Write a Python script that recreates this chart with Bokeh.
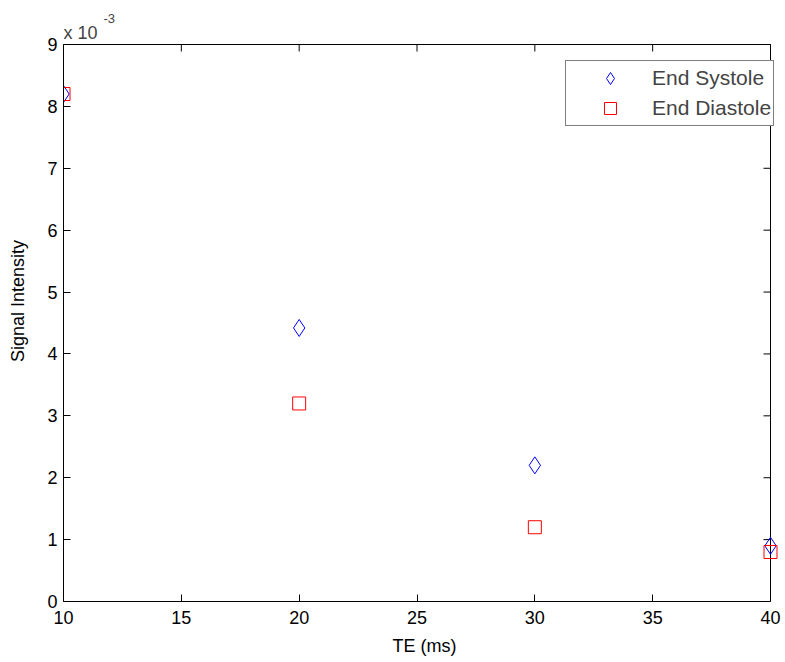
from bokeh.plotting import figure
from bokeh.models import (Range1d, FixedTicker, Label, Legend, LegendItem,
                          CustomJSTickFormatter)
from bokeh.embed import file_html
from bokeh.resources import INLINE

# Data
te_ms = [10, 20, 30, 40]
end_systole = [8.2e-3, 4.42e-3, 2.2e-3, 0.9e-3]
end_diastole = [8.2e-3, 3.2e-3, 1.2e-3, 0.8e-3]
x_ticks = [10, 15, 20, 25, 30, 35, 40]
y_ticks = [0, 1e-3, 2e-3, 3e-3, 4e-3, 5e-3, 6e-3, 7e-3, 8e-3, 9e-3]
x_min, x_max = 10, 40
y_min, y_max = 0, 9e-3

FONT = "Liberation Sans"
FS = "18px"

# Layout (pixels): axes box spans x 63..770, y 44..601 of a 785x662 canvas.
W, H = 785, 662
BOX_L, BOX_R, BOX_T, BOX_B = 63, 770, 44, 601
# the frame extends past the box (top/right) so that the labels and legend
# outside the box are not clipped
x_end = x_min + (x_max - x_min) * (W - BOX_L) / (BOX_R - BOX_L)
y_end = y_min + (y_max - y_min) * (BOX_B - 0) / (BOX_B - BOX_T)

p = figure(width=W, height=H, output_backend="svg", toolbar_location=None,
           x_range=Range1d(x_min, x_end), y_range=Range1d(y_min, y_end),
           min_border_left=BOX_L, min_border_right=0, min_border_top=0,
           min_border_bottom=H - BOX_B)
p.grid.visible = False
p.outline_line_color = None
p.background_fill_color = "white"
p.border_fill_color = "white"


def style_axis(ax):
    ax.major_tick_in = 7
    ax.major_tick_out = 0
    ax.minor_tick_line_color = None
    ax.axis_line_color = "black"
    ax.major_tick_line_color = "black"
    ax.major_label_text_font = FONT
    ax.major_label_text_font_size = FS
    ax.major_label_text_color = "black"
    ax.axis_label_text_font = FONT
    ax.axis_label_text_font_size = FS
    ax.axis_label_text_font_style = "normal"
    ax.axis_label_text_color = "black"


xa = p.xaxis[0]
xa.ticker = FixedTicker(ticks=x_ticks)
xa.bounds = (x_min, x_max)
xa.axis_label = "TE (ms)"
xa.major_label_standoff = 9
xa.axis_label_standoff = 9
style_axis(xa)

ya = p.yaxis[0]
ya.ticker = FixedTicker(ticks=y_ticks)
ya.bounds = (y_min, y_max)
ya.formatter = CustomJSTickFormatter(code="return (tick*1000).toFixed(0);")
ya.axis_label = "Signal Intensity"
ya.major_label_standoff = 6
ya.axis_label_standoff = 16
style_axis(ya)

# top and right edges of the box, with inward ticks
p.segment(x0=[x_min, x_max], y0=[y_max, y_min], x1=[x_max, x_max], y1=[y_max, y_max],
          line_color="black", line_width=1)
p.ray(x=x_ticks, y=[y_max] * len(x_ticks), length=7, length_units="screen",
      angle=-90, angle_units="deg", line_color="black", line_width=1)
p.ray(x=[x_max] * len(y_ticks), y=y_ticks, length=7, length_units="screen",
      angle=180, angle_units="deg", line_color="black", line_width=1)

r1 = p.scatter(te_ms, end_systole, marker="diamond", size=17, fill_color=None,
               line_color="#0000ff", line_width=1)
r2 = p.scatter(te_ms, end_diastole, marker="square", size=13, fill_color=None,
               line_color="#ff0000", line_width=1)

p.add_layout(Label(x=x_min, y=y_max, x_offset=0, y_offset=12, text="x 10",
                   text_font=FONT, text_font_size=FS, text_baseline="alphabetic"))
p.add_layout(Label(x=x_min, y=y_max, x_offset=40, y_offset=26, text="-3",
                   text_font=FONT, text_font_size="13px", text_baseline="alphabetic"))

legend = Legend(items=[LegendItem(label="End Systole", renderers=[r1]),
                       LegendItem(label="End Diastole", renderers=[r2])],
                location=(565 - BOX_L, BOX_B - 126), padding=2, glyph_width=84,
                glyph_height=30, label_height=30, spacing=0, label_standoff=0, margin=0,
                label_text_font=FONT, label_text_font_size="21px",
                border_line_color="black", border_line_width=1,
                background_fill_color="white", background_fill_alpha=1)
p.add_layout(legend, "center")

open("out.html", "w").write(file_html(p, INLINE))
